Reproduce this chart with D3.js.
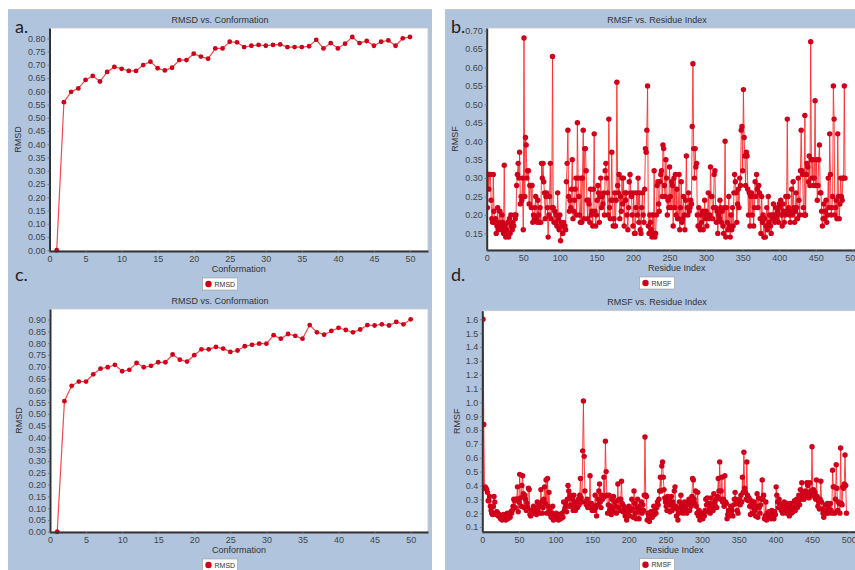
<!DOCTYPE html>
<html>
<head>
<meta charset="utf-8">
<script src="https://cdn.jsdelivr.net/npm/d3@7/dist/d3.min.js"></script>
<style>
  body { margin: 0; background: #fff; }
  svg { display: block; font-family: "Liberation Sans", Arial, sans-serif; }
</style>
</head>
<body>
<svg id="fig" width="855" height="570"></svg>
<script>
// ---- data ----
const rmsdA = [
  0.000, 0.559, 0.598, 0.611, 0.643, 0.658, 0.637, 0.673, 0.692, 0.685,
  0.677, 0.677, 0.699, 0.712, 0.687, 0.679, 0.689, 0.718, 0.718, 0.742,
  0.731, 0.723, 0.762, 0.762, 0.787, 0.785, 0.767, 0.772, 0.775, 0.772,
  0.775, 0.777, 0.767, 0.767, 0.767, 0.770, 0.794, 0.762, 0.782, 0.762,
  0.780, 0.805, 0.782, 0.790, 0.772, 0.787, 0.792, 0.772, 0.800, 0.805
];
const rmsdC = [
  0.000, 0.554, 0.619, 0.637, 0.637, 0.668, 0.692, 0.698, 0.708, 0.681,
  0.687, 0.716, 0.698, 0.704, 0.719, 0.719, 0.752, 0.730, 0.722, 0.749,
  0.774, 0.774, 0.784, 0.777, 0.763, 0.769, 0.787, 0.793, 0.798, 0.798,
  0.834, 0.819, 0.839, 0.831, 0.819, 0.877, 0.846, 0.836, 0.852, 0.865,
  0.856, 0.846, 0.858, 0.877, 0.875, 0.880, 0.875, 0.890, 0.880, 0.901
];
const rmsfB = [
  0.22, 0.31, 0.27, 0.31, 0.31, 0.24, 0.19, 0.18, 0.31, 0.21,
  0.18, 0.19, 0.15, 0.17, 0.22, 0.16, 0.18, 0.21, 0.17, 0.16,
  0.20, 0.18, 0.15, 0.335, 0.17, 0.14, 0.16, 0.15, 0.18, 0.14,
  0.19, 0.15, 0.20, 0.17, 0.16, 0.18, 0.17, 0.20, 0.19, 0.20,
  0.28, 0.31, 0.34, 0.30, 0.37, 0.23, 0.25, 0.24, 0.30, 0.16,
  0.68, 0.25, 0.41, 0.39, 0.30, 0.32, 0.32, 0.23, 0.28, 0.28,
  0.22, 0.28, 0.18, 0.20, 0.19, 0.22, 0.25, 0.19, 0.18, 0.24,
  0.20, 0.18, 0.22, 0.18, 0.34, 0.30, 0.34, 0.29, 0.26, 0.19,
  0.25, 0.26, 0.22, 0.14, 0.20, 0.25, 0.34, 0.19, 0.22, 0.63,
  0.22, 0.18, 0.21, 0.18, 0.20, 0.17, 0.26, 0.19, 0.16, 0.20,
  0.13, 0.18, 0.17, 0.15, 0.18, 0.17, 0.17, 0.16, 0.29, 0.34,
  0.43, 0.25, 0.21, 0.24, 0.22, 0.27, 0.35, 0.19, 0.21, 0.24,
  0.27, 0.30, 0.20, 0.45, 0.30, 0.25, 0.20, 0.18, 0.30, 0.18,
  0.30, 0.43, 0.19, 0.38, 0.38, 0.32, 0.24, 0.19, 0.24, 0.23,
  0.18, 0.27, 0.20, 0.21, 0.17, 0.27, 0.42, 0.21, 0.17, 0.20,
  0.24, 0.28, 0.26, 0.18, 0.25, 0.30, 0.22, 0.25, 0.23, 0.26,
  0.20, 0.32, 0.34, 0.30, 0.26, 0.20, 0.46, 0.22, 0.19, 0.24,
  0.37, 0.24, 0.17, 0.19, 0.26, 0.17, 0.24, 0.56, 0.28, 0.26,
  0.31, 0.19, 0.25, 0.21, 0.30, 0.23, 0.30, 0.17, 0.26, 0.24,
  0.26, 0.20, 0.16, 0.22, 0.29, 0.31, 0.26, 0.25, 0.20, 0.17,
  0.26, 0.15, 0.15, 0.22, 0.26, 0.20, 0.30, 0.18, 0.26, 0.16,
  0.15, 0.22, 0.26, 0.20, 0.18, 0.27, 0.38, 0.37, 0.43, 0.55,
  0.17, 0.15, 0.20, 0.18, 0.16, 0.14, 0.20, 0.15, 0.32, 0.14,
  0.15, 0.20, 0.28, 0.29, 0.23, 0.21, 0.29, 0.31, 0.32, 0.25,
  0.39, 0.38, 0.28, 0.25, 0.35, 0.30, 0.20, 0.24, 0.22, 0.33,
  0.25, 0.22, 0.29, 0.28, 0.17, 0.30, 0.22, 0.31, 0.20, 0.27,
  0.19, 0.19, 0.31, 0.16, 0.22, 0.29, 0.18, 0.19, 0.25, 0.20,
  0.16, 0.24, 0.36, 0.22, 0.20, 0.26, 0.21, 0.22, 0.24, 0.23,
  0.44, 0.61, 0.38, 0.30, 0.38, 0.33, 0.34, 0.20, 0.17, 0.22,
  0.17, 0.16, 0.20, 0.18, 0.21, 0.16, 0.20, 0.24, 0.19, 0.21,
  0.17, 0.20, 0.26, 0.19, 0.20, 0.33, 0.25, 0.25, 0.19, 0.22,
  0.31, 0.32, 0.22, 0.18, 0.21, 0.15, 0.20, 0.19, 0.24, 0.22,
  0.18, 0.21, 0.17, 0.15, 0.22, 0.40, 0.14, 0.22, 0.18, 0.16,
  0.25, 0.17, 0.14, 0.20, 0.16, 0.22, 0.17, 0.26, 0.31, 0.29,
  0.26, 0.18, 0.23, 0.27, 0.22, 0.30, 0.28, 0.43, 0.44, 0.32,
  0.54, 0.41, 0.36, 0.28, 0.37, 0.36, 0.27, 0.20, 0.26, 0.17,
  0.25, 0.26, 0.20, 0.25, 0.17, 0.22, 0.29, 0.25, 0.31, 0.27,
  0.22, 0.28, 0.26, 0.19, 0.15, 0.25, 0.18, 0.20, 0.14, 0.19,
  0.14, 0.17, 0.22, 0.16, 0.25, 0.18, 0.20, 0.17, 0.15, 0.20,
  0.19, 0.23, 0.20, 0.18, 0.22, 0.20, 0.19, 0.21, 0.18, 0.23,
  0.22, 0.24, 0.20, 0.17, 0.23, 0.21, 0.18, 0.20, 0.25, 0.21,
  0.46, 0.25, 0.22, 0.20, 0.18, 0.21, 0.27, 0.20, 0.29, 0.22,
  0.18, 0.21, 0.26, 0.22, 0.19, 0.30, 0.24, 0.20, 0.32, 0.43,
  0.32, 0.31, 0.22, 0.20, 0.47, 0.20, 0.31, 0.34, 0.33, 0.29,
  0.36, 0.28, 0.67, 0.35, 0.30, 0.35, 0.28, 0.30, 0.51, 0.28,
  0.35, 0.24, 0.28, 0.35, 0.39, 0.26, 0.26, 0.21, 0.17, 0.19,
  0.23, 0.19, 0.21, 0.24, 0.18, 0.20, 0.30, 0.22, 0.42, 0.31,
  0.20, 0.22, 0.25, 0.55, 0.46, 0.20, 0.22, 0.24, 0.19, 0.42,
  0.25, 0.19, 0.23, 0.30, 0.25, 0.24, 0.30, 0.30, 0.55, 0.30
];
const rmsfD = [
  1.60, 0.84, 0.38, 0.39, 0.38, 0.37, 0.35, 0.29, 0.29, 0.32,
  0.25, 0.22, 0.20, 0.19, 0.25, 0.32, 0.28, 0.20, 0.19, 0.21,
  0.20, 0.18, 0.19, 0.17, 0.16, 0.18, 0.15, 0.17, 0.19, 0.16,
  0.18, 0.15, 0.17, 0.20, 0.16, 0.18, 0.19, 0.17, 0.21, 0.20,
  0.22, 0.25, 0.30, 0.29, 0.24, 0.30, 0.30, 0.39, 0.21, 0.28,
  0.48, 0.31, 0.25, 0.40, 0.47, 0.34, 0.24, 0.33, 0.30, 0.22,
  0.27, 0.24, 0.38, 0.37, 0.19, 0.18, 0.22, 0.20, 0.22, 0.25,
  0.20, 0.21, 0.24, 0.19, 0.28, 0.22, 0.26, 0.20, 0.25, 0.37,
  0.28, 0.20, 0.24, 0.30, 0.39, 0.27, 0.44, 0.20, 0.45, 0.25,
  0.35, 0.22, 0.19, 0.17, 0.20, 0.25, 0.15, 0.17, 0.18, 0.16,
  0.20, 0.17, 0.18, 0.15, 0.19, 0.17, 0.16, 0.18, 0.20, 0.17,
  0.28, 0.22, 0.24, 0.27, 0.21, 0.30, 0.40, 0.36, 0.25, 0.33,
  0.26, 0.25, 0.30, 0.22, 0.33, 0.28, 0.22, 0.25, 0.28, 0.24,
  0.30, 0.26, 0.33, 0.45, 0.31, 0.28, 0.65, 1.01, 0.61, 0.36,
  0.28, 0.26, 0.30, 0.24, 0.27, 0.25, 0.47, 0.24, 0.27, 0.22,
  0.24, 0.25, 0.22, 0.33, 0.24, 0.18, 0.26, 0.30, 0.36, 0.41,
  0.28, 0.24, 0.33, 0.30, 0.32, 0.46, 0.32, 0.72, 0.50, 0.33,
  0.20, 0.26, 0.33, 0.22, 0.25, 0.19, 0.30, 0.24, 0.32, 0.21,
  0.28, 0.25, 0.20, 0.29, 0.41, 0.24, 0.30, 0.22, 0.30, 0.43,
  0.27, 0.21, 0.25, 0.23, 0.18, 0.21, 0.15, 0.22, 0.20, 0.25,
  0.18, 0.23, 0.22, 0.30, 0.23, 0.17, 0.36, 0.27, 0.20, 0.16,
  0.24, 0.30, 0.21, 0.16, 0.25, 0.22, 0.28, 0.20, 0.26, 0.22,
  0.33, 0.75, 0.33, 0.32, 0.15, 0.20, 0.18, 0.14, 0.17, 0.21,
  0.18, 0.17, 0.21, 0.25, 0.19, 0.23, 0.20, 0.24, 0.28, 0.26,
  0.30, 0.36, 0.46, 0.36, 0.54, 0.57, 0.46, 0.37, 0.31, 0.28,
  0.25, 0.22, 0.32, 0.27, 0.30, 0.21, 0.26, 0.32, 0.22, 0.28,
  0.24, 0.36, 0.39, 0.25, 0.18, 0.23, 0.15, 0.20, 0.28, 0.24,
  0.33, 0.26, 0.22, 0.20, 0.26, 0.28, 0.24, 0.22, 0.20, 0.27,
  0.26, 0.30, 0.22, 0.28, 0.25, 0.32, 0.45, 0.44, 0.30, 0.27,
  0.36, 0.25, 0.20, 0.35, 0.18, 0.22, 0.15, 0.20, 0.17, 0.19,
  0.16, 0.20, 0.18, 0.22, 0.30, 0.26, 0.31, 0.21, 0.27, 0.24,
  0.20, 0.31, 0.27, 0.25, 0.22, 0.34, 0.28, 0.25, 0.30, 0.24,
  0.32, 0.45, 0.36, 0.57, 0.30, 0.36, 0.46, 0.28, 0.30, 0.25,
  0.47, 0.28, 0.27, 0.16, 0.19, 0.22, 0.18, 0.20, 0.25, 0.19,
  0.22, 0.18, 0.26, 0.30, 0.35, 0.30, 0.27, 0.22, 0.20, 0.28,
  0.30, 0.26, 0.33, 0.28, 0.46, 0.35, 0.64, 0.38, 0.35, 0.30,
  0.57, 0.33, 0.29, 0.31, 0.25, 0.19, 0.29, 0.26, 0.20, 0.24,
  0.28, 0.22, 0.18, 0.25, 0.34, 0.17, 0.31, 0.24, 0.20, 0.26,
  0.30, 0.44, 0.30, 0.33, 0.16, 0.18, 0.28, 0.15, 0.20, 0.17,
  0.21, 0.17, 0.19, 0.16, 0.22, 0.18, 0.20, 0.16, 0.21, 0.19,
  0.39, 0.33, 0.28, 0.24, 0.30, 0.27, 0.24, 0.22, 0.26, 0.20,
  0.25, 0.28, 0.21, 0.23, 0.20, 0.27, 0.22, 0.25, 0.18, 0.24,
  0.27, 0.20, 0.23, 0.21, 0.25, 0.29, 0.22, 0.26, 0.30, 0.24,
  0.28, 0.33, 0.26, 0.37, 0.30, 0.42, 0.32, 0.35, 0.30, 0.33,
  0.36, 0.32, 0.42, 0.40, 0.35, 0.31, 0.42, 0.33, 0.36, 0.68,
  0.34, 0.37, 0.32, 0.35, 0.30, 0.44, 0.32, 0.25, 0.28, 0.23,
  0.30, 0.43, 0.28, 0.23, 0.20, 0.17, 0.22, 0.26, 0.20, 0.22,
  0.27, 0.20, 0.24, 0.21, 0.27, 0.22, 0.20, 0.51, 0.39, 0.39,
  0.20, 0.30, 0.55, 0.38, 0.22, 0.28, 0.27, 0.20, 0.67, 0.27,
  0.26, 0.39, 0.38, 0.41, 0.62, 0.40, 0.20
];

const conformationTicks = [0, 5, 10, 15, 20, 25, 30, 35, 40, 45, 50];
const residueTicks = [0, 50, 100, 150, 200, 250, 300, 350, 400, 450, 500];
const rmsdTicksA = [0, 0.05, 0.10, 0.15, 0.20, 0.25, 0.30, 0.35, 0.40, 0.45, 0.50, 0.55, 0.60, 0.65, 0.70, 0.75, 0.80];
const rmsdTicksC = [0, 0.05, 0.10, 0.15, 0.20, 0.25, 0.30, 0.35, 0.40, 0.45, 0.50, 0.55, 0.60, 0.65, 0.70, 0.75, 0.80, 0.85, 0.90];
const rmsfTicksB = [0.15, 0.20, 0.25, 0.30, 0.35, 0.40, 0.45, 0.50, 0.55, 0.60, 0.65, 0.70];
const rmsfTicksD = [0.1, 0.2, 0.3, 0.4, 0.5, 0.6, 0.7, 0.8, 0.9, 1.0, 1.1, 1.2, 1.3, 1.4, 1.5, 1.6];

const svg = d3.select('#fig');

// blue backgrounds (one per column)
svg.append('rect').attr('x', 8).attr('y', 10).attr('width', 424).attr('height', 560).attr('fill', '#b0c4de');
svg.append('rect').attr('x', 445).attr('y', 10).attr('width', 410).attr('height', 560).attr('fill', '#b0c4de');
svg.append('line').attr('x1', 8).attr('x2', 432).attr('y1', 9.5).attr('y2', 9.5).attr('stroke', '#c4c8cc');
svg.append('line').attr('x1', 445).attr('x2', 855).attr('y1', 9.5).attr('y2', 9.5).attr('stroke', '#c4c8cc');

const panels = [
  {tag: 'a.', tagX: 15, tagY: 33, title: 'RMSD vs. Conformation', xLabel: 'Conformation', yLabel: 'RMSD',
   values: rmsdA, xTicks: conformationTicks, yTicks: rmsdTicksA, yFmt: d3.format('.2f'),
   left: 49.5, right: 428, top: 28, bottom: 251, xDomain: [0, 52.5], yDomain: [-0.003, 0.839],
   centerX: 220, titleY: 23, yLabelX: 21, lineColor: '#f24a4a', lineWidth: 1.2, r: 2.4},
  {tag: 'b.', tagX: 451, tagY: 33, title: 'RMSF vs. Residue Index', xLabel: 'Residue Index', yLabel: 'RMSF',
   values: rmsfB, xTicks: residueTicks, yTicks: rmsfTicksB, yFmt: d3.format('.2f'),
   left: 486.7, right: 867, top: 28, bottom: 250, xDomain: [0, 520], yDomain: [0.105, 0.707],
   centerX: 657, titleY: 23, yLabelX: 458, lineColor: '#ff2a2a', lineWidth: 0.9, r: 2.7},
  {tag: 'c.', tagX: 15, tagY: 281, title: 'RMSD vs. Conformation', xLabel: 'Conformation', yLabel: 'RMSD',
   values: rmsdC, xTicks: conformationTicks, yTicks: rmsdTicksC, yFmt: d3.format('.2f'),
   left: 50, right: 428, top: 309, bottom: 532, xDomain: [0, 52.4], yDomain: [-0.001, 0.945],
   centerX: 220, titleY: 304, yLabelX: 22, lineColor: '#f24a4a', lineWidth: 1.2, r: 2.4},
  {tag: 'd.', tagX: 451, tagY: 281, title: 'RMSF vs. Residue Index', xLabel: 'Residue Index', yLabel: 'RMSF',
   values: rmsfD, xTicks: residueTicks, yTicks: rmsfTicksD, yFmt: d3.format('.1f'),
   left: 482.3, right: 867, top: 310.7, bottom: 531.7, xDomain: [0, 525], yDomain: [0.066, 1.662],
   centerX: 657, titleY: 305, yLabelX: 460, lineColor: '#ff2a2a', lineWidth: 0.9, r: 2.7}
];

panels.forEach((p, k) => {
  const g = svg.append('g');
  const x = d3.scaleLinear().domain(p.xDomain).range([p.left, p.right]);
  const y = d3.scaleLinear().domain(p.yDomain).range([p.bottom, p.top]);
  const pts = p.values.map((v, i) => ({i: i + 1, v: v}));

  // title
  g.append('text').attr('x', p.centerX).attr('y', p.titleY)
    .attr('text-anchor', 'middle').attr('font-size', 9).attr('fill', '#333')
    .text(p.title);

  // plot area
  g.append('rect').attr('x', p.left).attr('y', p.top)
    .attr('width', p.right - p.left).attr('height', p.bottom - p.top)
    .attr('fill', '#fff').attr('stroke', '#c8c8c8').attr('stroke-width', 0.8);

  g.append('clipPath').attr('id', 'clip' + k).append('rect')
    .attr('x', p.left).attr('y', p.top - 4)
    .attr('width', p.right - p.left + 4).attr('height', p.bottom - p.top + 8);

  const plot = g.append('g').attr('clip-path', 'url(#clip' + k + ')');
  plot.append('path').datum(pts)
    .attr('d', d3.line().x(d => x(d.i)).y(d => y(d.v)))
    .attr('fill', 'none').attr('stroke', p.lineColor).attr('stroke-width', p.lineWidth);
  plot.selectAll('circle').data(pts).enter().append('circle')
    .attr('cx', d => x(d.i)).attr('cy', d => y(d.v))
    .attr('r', p.r).attr('fill', '#d0001a');

  // axes
  const xAxis = g.append('g').attr('transform', 'translate(0,' + p.bottom + ')')
    .call(d3.axisBottom(x).tickValues(p.xTicks).tickSize(2).tickSizeOuter(0).tickPadding(3));
  const yAxis = g.append('g').attr('transform', 'translate(' + p.left + ',0)')
    .call(d3.axisLeft(y).tickValues(p.yTicks).tickFormat(p.yFmt).tickSize(2).tickSizeOuter(0).tickPadding(2));
  [xAxis, yAxis].forEach(a => {
    a.select('.domain').attr('stroke', '#333').attr('stroke-width', 2);
    a.selectAll('.tick line').attr('stroke', '#777');
    a.selectAll('.tick text').attr('fill', '#444').attr('font-size', 9)
      .attr('font-family', '"Liberation Sans", Arial, sans-serif');
  });

  // axis labels
  g.append('text').attr('x', (p.left + p.right) / 2).attr('y', p.bottom + 21)
    .attr('text-anchor', 'middle').attr('font-size', 9).attr('fill', '#333')
    .text(p.xLabel);
  g.append('text').attr('transform', 'translate(' + p.yLabelX + ',' + ((p.top + p.bottom) / 2) + ') rotate(-90)')
    .attr('text-anchor', 'middle').attr('font-size', 9).attr('fill', '#333')
    .text(p.yLabel);

  // legend
  const lg = g.append('g').attr('transform', 'translate(' + (p.centerX - 17.5) + ',' + (p.bottom + 27) + ')');
  lg.append('rect').attr('width', 35).attr('height', 12)
    .attr('fill', '#fff').attr('stroke', '#999').attr('stroke-width', 0.6);
  lg.append('circle').attr('cx', 6).attr('cy', 6).attr('r', 3.2).attr('fill', '#d0001a');
  lg.append('text').attr('x', 12).attr('y', 8.6).attr('font-size', 7).attr('fill', '#333').text(p.yLabel);

  // panel tag
  svg.append('text').attr('x', p.tagX).attr('y', p.tagY)
    .attr('font-family', 'Lato, "Open Sans", sans-serif').attr('font-size', 18).attr('fill', '#222')
    .text(p.tag);
});
</script>
</body>
</html>
